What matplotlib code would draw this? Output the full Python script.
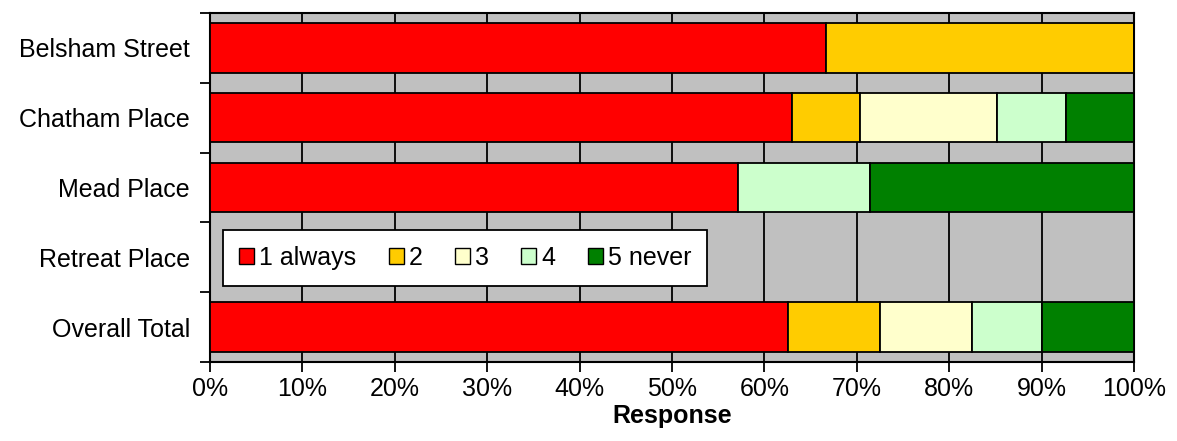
import matplotlib
matplotlib.use("Agg")
import matplotlib.pyplot as plt
import numpy as np

# Share of responses (%) per location and answer
locations = ["Belsham Street", "Chatham Place", "Mead Place", "Retreat Place", "Overall Total"]
answers = ["1 always", "2", "3", "4", "5 never"]
always = [66.7, 63.0, 57.1, 0.0, 62.5]
two = [33.3, 7.4, 0.0, 0.0, 10.0]
three = [0.0, 14.8, 0.0, 0.0, 10.0]
four = [0.0, 7.4, 14.3, 0.0, 7.5]
never = [0.0, 7.4, 28.6, 0.0, 10.0]
xticks = [0, 10, 20, 30, 40, 50, 60, 70, 80, 90, 100]
xlabel = "Response"

series = [always, two, three, four, never]
colors = ["#FF0000", "#FFCC00", "#FFFFCC", "#CCFFCC", "#008000"]

plt.rcParams["font.family"] = ["Liberation Sans", "DejaVu Sans"]
FS = 18

W, H = 1177, 441
fig = plt.figure(figsize=(W / 100, H / 100), dpi=100)
ax = fig.add_axes([210 / W, (H - 362) / H, (1134 - 210) / W, (362 - 13) / H])
ax.set_facecolor("#C0C0C0")

y = np.arange(len(locations))
left = np.zeros(len(locations))
for vals, col, lab in zip(series, colors, answers):
    v = np.array(vals)
    ax.barh(y, v, left=left, height=0.71, color=col, edgecolor="black",
            linewidth=1.3, label=lab, zorder=3)
    left += v

ax.set_xlim(0, 100)
ax.set_ylim(len(locations) - 0.5, -0.5)
ax.set_xticks(xticks)
ax.set_xticklabels([f"{t}%" for t in xticks], fontsize=FS)
ax.set_yticks(y)
ax.set_yticklabels(locations, fontsize=FS)
ax.tick_params(axis="y", length=0, pad=14.4)
ax.set_yticks(np.arange(-0.5, len(locations) + 0.5, 1), minor=True)
ax.tick_params(axis="y", which="minor", length=7, width=1.3, direction="out")
ax.tick_params(axis="x", length=7, width=1.3, direction="out", pad=3.5)

ax.xaxis.grid(True, color="black", linewidth=1.3, zorder=1)
ax.set_axisbelow(True)
for s in ax.spines.values():
    s.set_linewidth(1.5)
    s.set_color("black")

ax.set_xlabel(xlabel, fontsize=FS, fontweight="bold", labelpad=2.5)

leg = ax.legend(loc="upper left", bbox_to_anchor=(0.014, 0.378), ncol=5,
                fontsize=FS, frameon=True, fancybox=False, edgecolor="black",
                framealpha=1, handlelength=0.6, handleheight=0.6,
                handletextpad=0.2, columnspacing=1.3, borderpad=0.64,
                borderaxespad=0)
leg.get_frame().set_linewidth(1.3)
for h in leg.legend_handles:
    h.set_edgecolor("black")
    h.set_linewidth(1.0)

fig.savefig("out.png", dpi=100)
